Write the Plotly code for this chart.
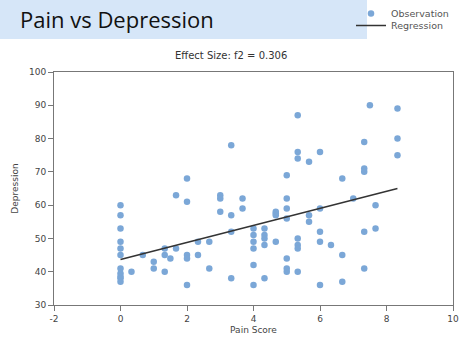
import plotly.graph_objects as go

# Observations (pain score, depression)
pain = [0, 0, 0, 0, 0, 0, 0, 0, 0, 0, 0,
        0.33, 0.67, 1.0, 1.0, 1.33, 1.33, 1.33, 1.5, 1.67, 1.67,
        2.0, 2.0, 2.0, 2.0, 2.0, 2.33, 2.33, 2.67, 2.67,
        3.0, 3.0, 3.0, 3.33, 3.33, 3.33, 3.33, 3.67, 3.67,
        4.0, 4.0, 4.0, 4.0, 4.0, 4.0, 4.33, 4.33, 4.33, 4.33, 4.33,
        4.67, 4.67, 4.67, 4.67,
        5.0, 5.0, 5.0, 5.0, 5.0, 5.0, 5.0,
        5.33, 5.33, 5.33, 5.33, 5.33, 5.33, 5.33,
        5.67, 5.67, 5.67, 6.0, 6.0, 6.0, 6.0, 6.0, 6.33,
        6.67, 6.67, 6.67, 7.0, 7.33, 7.33, 7.33, 7.33, 7.33, 7.5,
        7.67, 7.67, 8.33, 8.33, 8.33]
depression = [60, 57, 53, 49, 47, 45, 41, 39.5, 38.5, 38, 37,
              40, 45, 43, 41, 47, 45, 40, 44, 63, 47,
              68, 61, 45, 44, 36, 49, 45, 49, 41,
              63, 62, 58, 78, 57, 52, 38, 62, 59,
              53, 51, 49, 47, 42, 36, 53, 51, 50, 48, 38,
              58, 57.5, 57, 49,
              69, 62, 59, 56, 44, 41, 40,
              87, 76, 74, 50, 48, 47, 40,
              73, 57, 55, 76, 59, 52, 49, 36, 48,
              68, 45, 37, 62, 79, 71, 70, 52, 41, 90,
              60, 53, 89, 80, 75]

# Regression line endpoints
reg_x = [0, 8.33]
reg_y = [43.7, 65.0]

x_ticks = [-2, 0, 2, 4, 6, 8, 10]
x_tick_labels = ["-2", "0", "2", "4", "6", "8", "10"]
y_ticks = [30, 40, 50, 60, 70, 80, 90, 100]

title_text = "Pain vs Depression"
subtitle_text = "Effect Size: f2 = 0.306"
x_label = "Pain Score"
y_label = "Depression"

fig = go.Figure()
fig.add_trace(go.Scatter(
    x=pain, y=depression, mode="markers", name="Observation",
    marker=dict(color="#7ba7d7", size=6.5, line=dict(width=0)),
    legend="legend",
))
fig.add_trace(go.Scatter(
    x=reg_x, y=reg_y, mode="lines", name="Regression",
    line=dict(color="#333333", width=1.5),
    legend="legend2",
))

L, R, T, B = 54, 9, 72, 35
W, H = 462, 340
pw, ph = W - L - R, H - T - B

def px_x(p):
    return (p - L) / pw

def px_y(p):
    return (H - B - p) / ph

legend_style = dict(
    xanchor="left", yanchor="top",
    font=dict(size=9.5, color="#555"), bgcolor="rgba(0,0,0,0)",
    itemwidth=30, tracegroupgap=0,
)

fig.update_layout(
    width=W, height=H,
    margin=dict(l=L, r=R, t=T, b=B, autoexpand=False),
    paper_bgcolor="white", plot_bgcolor="white",
    font=dict(family="DejaVu Sans", size=9, color="#444"),
    showlegend=True,
    legend=dict(x=px_x(351), y=px_y(-1), **legend_style),
    legend2=dict(x=px_x(351), y=px_y(11), **legend_style),
    shapes=[dict(
        type="rect", xref="paper", yref="paper",
        x0=px_x(0), x1=px_x(367), y0=px_y(39), y1=px_y(0),
        fillcolor="#d6e6f8", line=dict(width=0), layer="below",
    )],
    annotations=[
        dict(text=title_text, xref="paper", yref="paper",
             x=px_x(18), y=px_y(19), xanchor="left", yanchor="middle",
             showarrow=False, font=dict(family="Open Sans", size=22, color="#111")),
        dict(text=subtitle_text, xref="paper", yref="paper",
             x=px_x(231), y=px_y(56), xanchor="center", yanchor="middle",
             showarrow=False, font=dict(family="DejaVu Sans", size=10, color="#333")),
    ],
    xaxis=dict(
        range=[-2, 10], tickvals=x_ticks, ticktext=x_tick_labels,
        showgrid=False, zeroline=False,
        showline=True, linecolor="#777", mirror=True, linewidth=1,
        ticks="outside", ticklen=5, tickcolor="#777",
        title=dict(text=x_label, font=dict(size=9, color="#444"), standoff=3),
    ),
    yaxis=dict(
        range=[30, 100], tickvals=y_ticks,
        showgrid=False, zeroline=False,
        showline=True, linecolor="#777", mirror=True, linewidth=1,
        ticks="outside", ticklen=5, tickcolor="#777",
        title=dict(text=y_label, font=dict(size=9, color="#444"), standoff=8),
    ),
)

fig.write_html(
    "out.html",
    config={"displayModeBar": False},
    post_script="document.body.style.margin='0';document.body.style.padding='0';",
)
